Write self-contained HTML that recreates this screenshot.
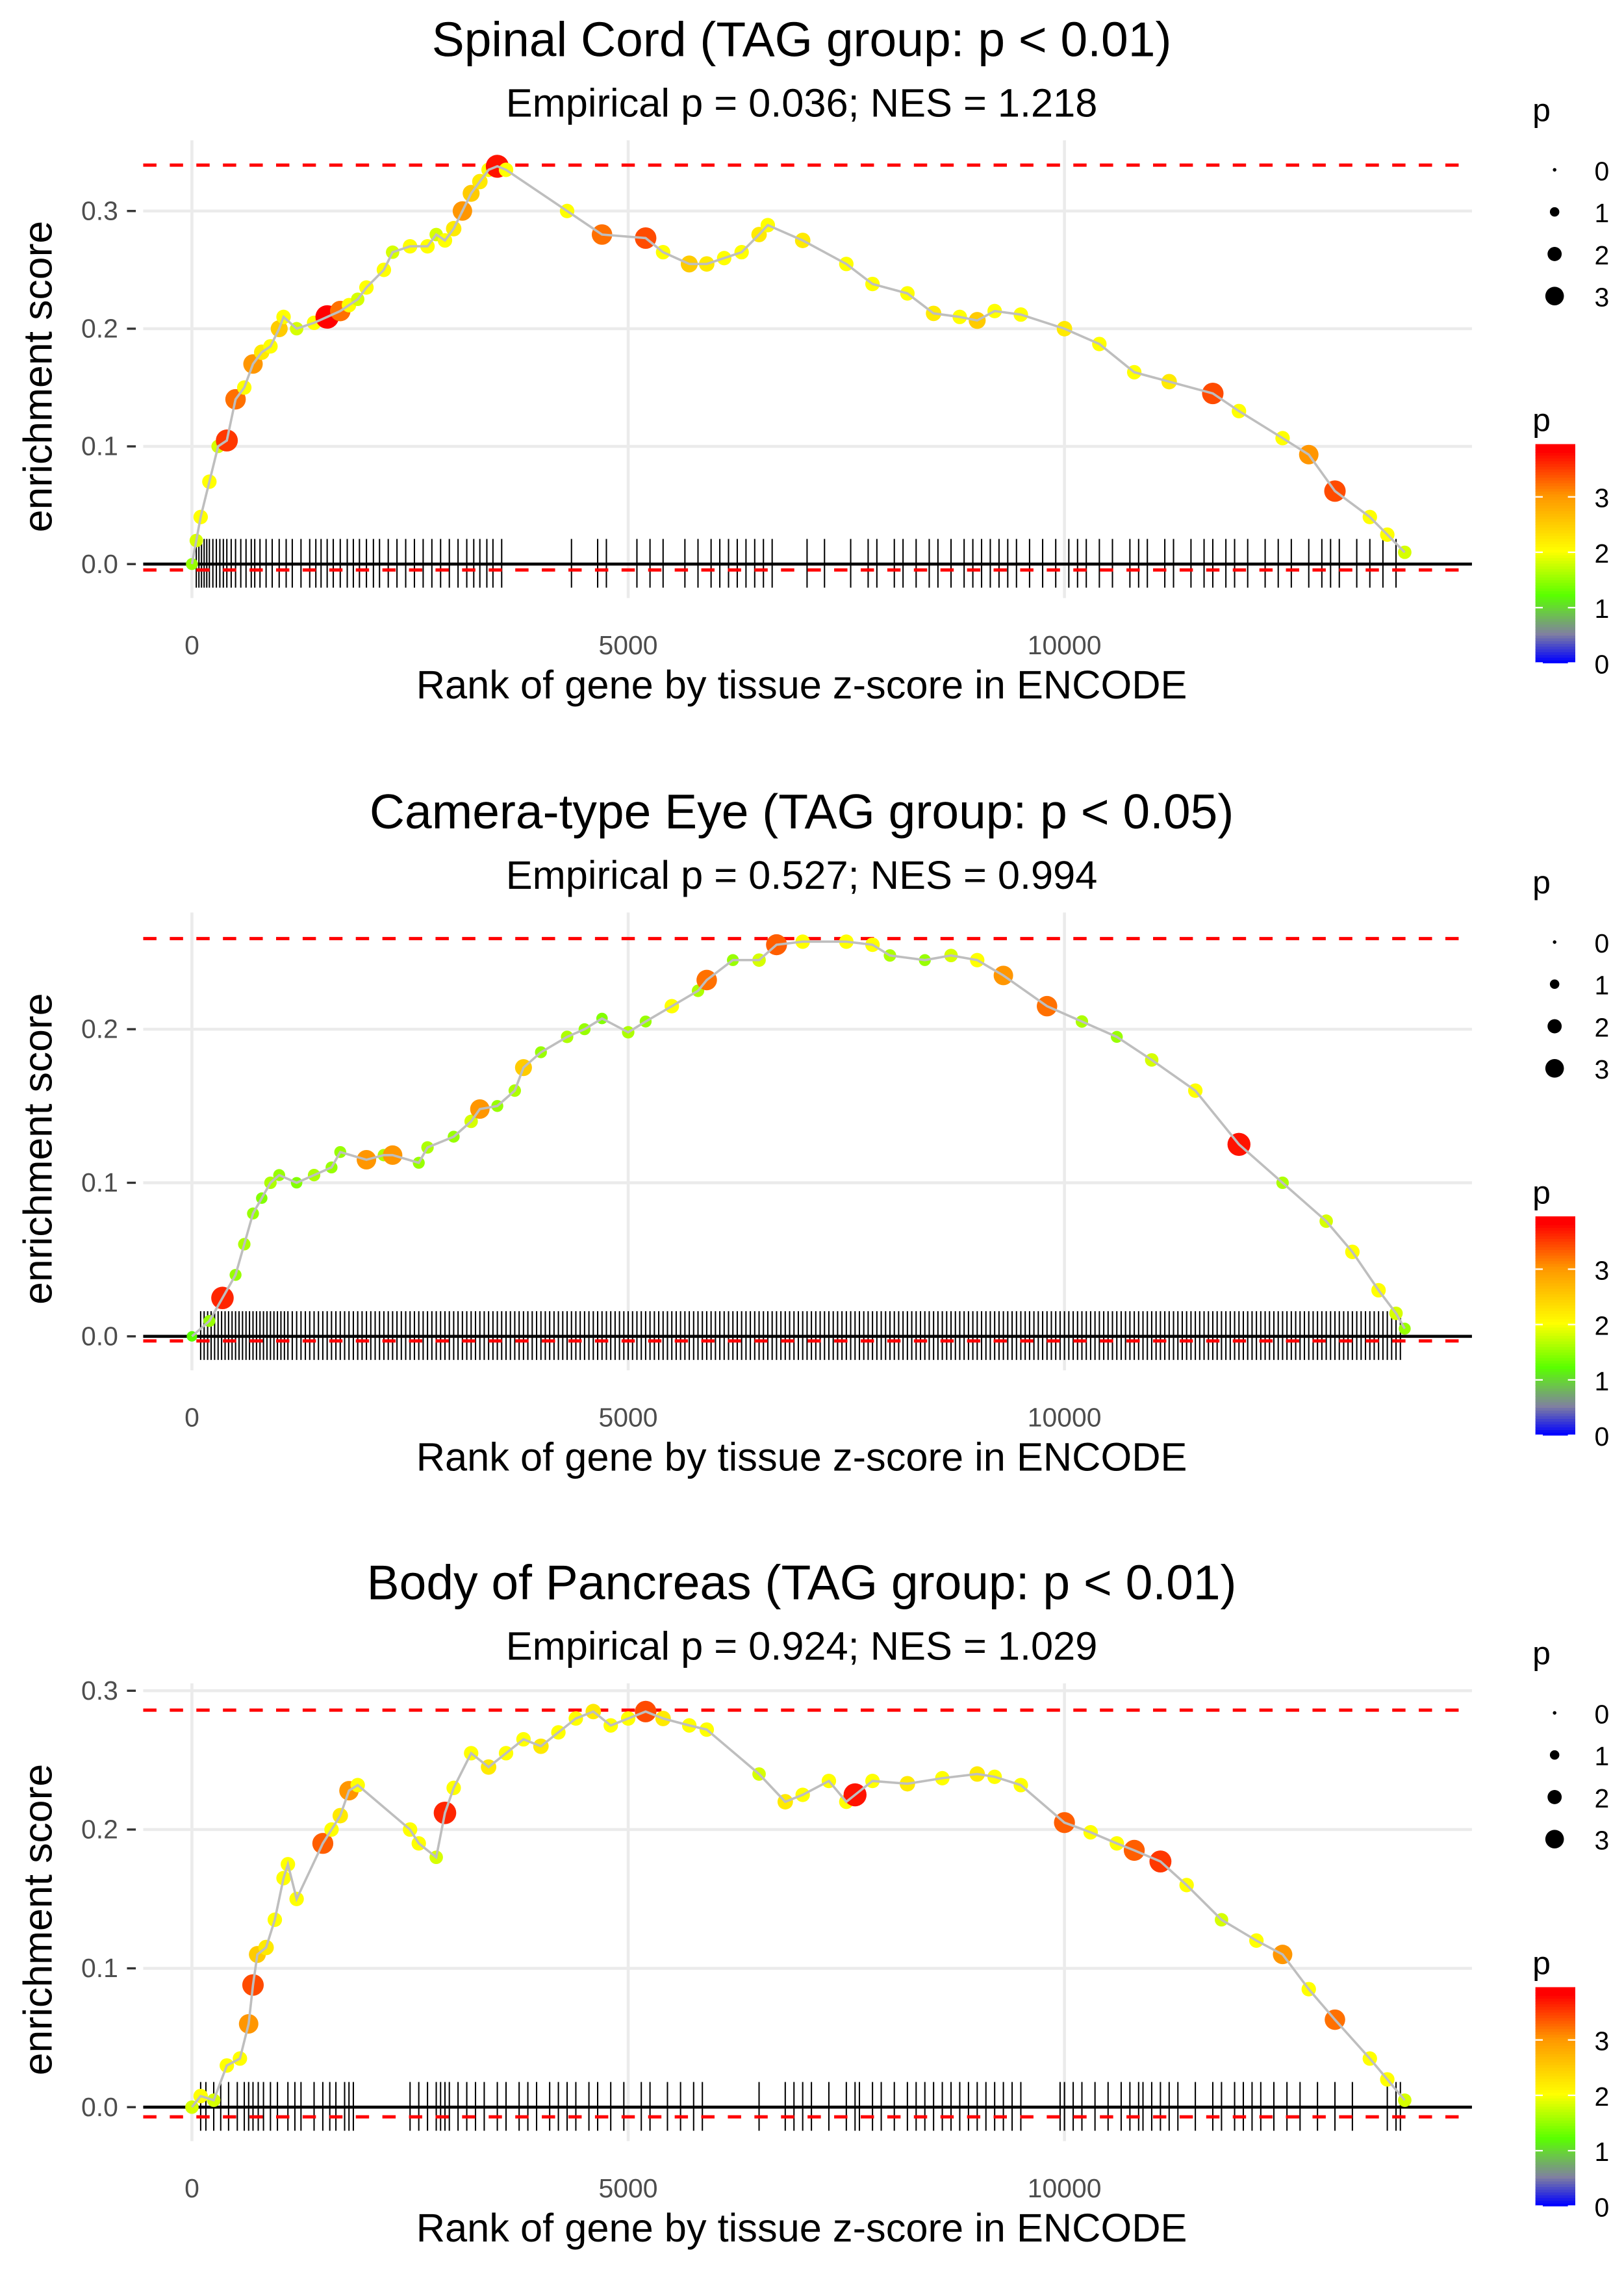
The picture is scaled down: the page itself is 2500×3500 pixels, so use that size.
<!DOCTYPE html>
<html><head><meta charset="utf-8"><style>
html,body{margin:0;padding:0;background:#fff}
svg{display:block}
text{font-family:"Liberation Sans",sans-serif}
</style></head><body>
<svg id="chart" width="2500" height="3500" viewBox="0 0 1100 1540" preserveAspectRatio="none" xmlns="http://www.w3.org/2000/svg"></svg>
<script>
// ---------- data ----------
const titles = ["Spinal Cord (TAG group: p < 0.01)","Camera-type Eye (TAG group: p < 0.05)","Body of Pancreas (TAG group: p < 0.01)"];
const subtitles = ["Empirical p = 0.036; NES = 1.218","Empirical p = 0.527; NES = 0.994","Empirical p = 0.924; NES = 1.029"];
const xTicks = [0,5000,10000];
const yTicks1 = [0,0.1,0.2,0.3];
const yTicks2 = [0,0.1,0.2];
const yTicks3 = [0,0.1,0.2,0.3];
const esMax = [0.339,0.259,0.286];
const esMin = [-0.005,-0.003,-0.007];

const rank1 = [0,50,100,200,300,400,500,600,700,800,900,1000,1050,1200,1400,1550,1700,1800,1900,2000,2200,2300,2500,2700,2800,2900,3000,3100,3200,3300,3400,3500,3600,4300,4700,5200,5400,5700,5900,6100,6300,6500,6600,7000,7500,7800,8200,8500,8800,9000,9200,9500,10000,10400,10800,11200,11700,12000,12500,12800,13100,13500,13700,13900];
const es1 = [0,0.02,0.04,0.07,0.1,0.105,0.14,0.15,0.17,0.18,0.185,0.2,0.21,0.2,0.205,0.21,0.215,0.22,0.225,0.235,0.25,0.265,0.27,0.27,0.28,0.275,0.285,0.3,0.315,0.325,0.335,0.338,0.335,0.3,0.28,0.277,0.265,0.255,0.255,0.26,0.265,0.28,0.288,0.275,0.255,0.238,0.23,0.213,0.21,0.207,0.215,0.212,0.2,0.187,0.163,0.155,0.145,0.13,0.107,0.093,0.062,0.04,0.025,0.01];
const p1 = [1.5,1.8,2,2,1.8,3.5,3.2,2,3,2.2,2,2.5,2,1.8,2,3.8,3.2,2,1.8,2,2,1.8,2,2,1.8,2,2.2,3,2.5,2.2,2,3.7,2,2,3.2,3.4,2,2.5,2.2,2,2,2.2,2,2.2,2,2,2,2.2,2,2.5,2,2,2.2,2,2,2.2,3.4,2,2,3,3.4,2,2,1.8];
const rug1 = [50,80,110,140,170,200,240,280,320,360,400,450,500,560,620,680,720,780,850,920,1000,1080,1150,1250,1350,1420,1480,1550,1620,1700,1780,1850,1920,2000,2080,2150,2250,2350,2450,2550,2650,2750,2850,2950,3050,3150,3230,3300,3380,3450,3550,4350,4650,4750,5100,5250,5400,5650,5800,5950,6050,6150,6250,6350,6450,6550,6650,7050,7250,7550,7750,7850,8050,8150,8300,8450,8550,8700,8850,8950,9050,9150,9250,9350,9450,9600,9750,9900,10050,10150,10250,10400,10550,10750,10850,10950,11150,11250,11450,11600,11700,11850,11950,12100,12300,12450,12600,12800,12950,13050,13150,13350,13500,13650,13800];

const rank2 = [0,200,350,500,600,700,800,900,1000,1200,1400,1600,1700,2000,2200,2300,2600,2700,3000,3200,3300,3500,3700,3800,4000,4300,4500,4700,5000,5200,5500,5800,5900,6200,6500,6700,7000,7500,7800,8000,8400,8700,9000,9300,9800,10200,10600,11000,11500,12000,12500,13000,13300,13600,13800,13900];
const es2 = [0,0.01,0.025,0.04,0.06,0.08,0.09,0.1,0.105,0.1,0.105,0.11,0.12,0.115,0.118,0.118,0.113,0.123,0.13,0.14,0.148,0.15,0.16,0.175,0.185,0.195,0.2,0.207,0.198,0.205,0.215,0.225,0.232,0.245,0.245,0.255,0.257,0.257,0.255,0.248,0.245,0.248,0.245,0.235,0.215,0.205,0.195,0.18,0.16,0.125,0.1,0.075,0.055,0.03,0.015,0.005];
const p2 = [1.2,1.5,3.6,1.5,1.6,1.5,1.4,1.6,1.5,1.4,1.6,1.5,1.5,3,1.6,3,1.5,1.6,1.5,1.8,3,1.5,1.6,2.5,1.5,1.6,1.5,1.4,1.6,1.5,2,1.6,3.2,1.5,1.8,3.3,2,2,2,1.6,1.5,1.8,2,3,3.2,1.6,1.5,1.8,2,3.7,1.6,1.8,2,2,1.8,1.5];
const rug2 = [100,140,180,220,260,300,340,380,420,460,500,540,580,620,660,700,740,780,820,860,900,940,980,1020,1060,1100,1150,1200,1250,1300,1350,1400,1450,1500,1550,1600,1650,1700,1750,1800,1850,1900,1950,2000,2050,2100,2150,2200,2250,2300,2350,2400,2450,2500,2550,2600,2650,2700,2750,2800,2850,2900,2950,3000,3050,3100,3150,3200,3250,3300,3350,3400,3450,3500,3550,3600,3650,3700,3750,3800,3850,3900,3950,4000,4050,4100,4150,4200,4250,4300,4350,4400,4450,4500,4550,4600,4650,4700,4750,4800,4850,4900,4950,5000,5050,5100,5150,5200,5250,5300,5350,5400,5450,5500,5550,5600,5650,5700,5750,5800,5850,5900,5950,6000,6050,6100,6150,6200,6250,6300,6350,6400,6450,6500,6550,6600,6650,6700,6750,6800,6850,6900,6950,7000,7050,7100,7150,7200,7250,7300,7350,7400,7450,7500,7550,7600,7650,7700,7750,7800,7850,7900,7950,8000,8050,8100,8150,8200,8250,8300,8350,8400,8450,8500,8550,8600,8650,8700,8750,8800,8850,8900,8950,9000,9050,9100,9150,9200,9250,9300,9350,9400,9450,9500,9550,9600,9650,9700,9750,9800,9850,9900,9950,10000,10050,10100,10150,10200,10250,10300,10350,10400,10450,10500,10550,10600,10650,10700,10750,10800,10850,10900,10950,11000,11050,11100,11150,11200,11250,11300,11350,11400,11450,11500,11550,11600,11650,11700,11750,11800,11850,11900,11950,12000,12050,12100,12150,12200,12250,12300,12350,12400,12450,12500,12550,12600,12650,12700,12750,12800,12850,12900,12950,13000,13050,13100,13150,13200,13250,13300,13350,13400,13450,13500,13550,13600,13650,13700,13750,13800,13850];

const rank3 = [0,100,250,400,550,650,700,750,850,950,1050,1100,1200,1500,1600,1700,1800,1900,2500,2600,2800,2900,3000,3200,3400,3600,3800,4000,4200,4400,4600,4800,5000,5200,5400,5700,5900,6500,6800,7000,7300,7500,7600,7800,8200,8600,9000,9200,9500,10000,10300,10600,10800,11100,11400,11800,12200,12500,12800,13100,13500,13700,13900];
const es3 = [0,0.008,0.005,0.03,0.035,0.06,0.088,0.11,0.115,0.135,0.165,0.175,0.15,0.19,0.2,0.21,0.228,0.232,0.2,0.19,0.18,0.212,0.23,0.255,0.245,0.255,0.265,0.26,0.27,0.28,0.285,0.275,0.28,0.285,0.28,0.275,0.272,0.24,0.22,0.225,0.235,0.22,0.225,0.235,0.233,0.237,0.24,0.238,0.232,0.205,0.198,0.19,0.185,0.177,0.16,0.135,0.12,0.11,0.085,0.063,0.035,0.02,0.005];
const p3 = [1.8,2,1.8,2,2,3,3.4,2.5,2.2,2,2,2,2,3.3,2,2.2,3,2,2,2,1.8,3.6,2,2,2.2,2,2,2.2,2,2,2.2,2,2,3.4,2.2,2,2,1.8,2.2,2,2,2,3.7,2,2.2,2,2.2,2,2,3.3,2,2,3.3,3.5,2,1.8,2,3,2,3.2,2,2,1.8];
const rug3 = [100,160,250,330,420,520,600,650,700,760,820,900,980,1100,1180,1250,1400,1500,1580,1650,1750,1800,1850,2500,2600,2700,2800,2850,2900,2950,3050,3150,3250,3350,3500,3600,3750,3850,3950,4100,4200,4300,4400,4550,4650,4800,4950,5150,5250,5450,5600,5750,5850,6500,6800,6900,7000,7100,7300,7500,7600,7650,7800,7900,8050,8200,8300,8400,8500,8600,8700,8800,8900,9000,9100,9200,9300,9400,9500,9950,10000,10100,10200,10350,10500,10650,10750,10850,10900,11000,11100,11200,11300,11500,11700,11800,11950,12050,12150,12250,12400,12550,12700,12900,13100,13300,13700,13800,13850];

// ---------- layout ----------
const NS = "http://www.w3.org/2000/svg";
const svg = document.getElementById('chart');
function mk(tag, attrs, parent){const e=document.createElementNS(NS,tag);for(const k in attrs)e.setAttribute(k,attrs[k]);(parent||svg).appendChild(e);return e;}
function pColor(p){
  const stops=[[0,[0,0,255]],[0.5,[128,128,160]],[1.2,[90,255,0]],[2,[255,255,0]],[3,[255,150,0]],[3.8,[255,0,0]]];
  for(let i=1;i<stops.length;i++){if(p<=stops[i][0]){const a=stops[i-1],b=stops[i];const t=(p-a[0])/(b[0]-a[0]);const c=a[1].map((v,j)=>Math.round(v+(b[1][j]-v)*t));return `rgb(${c})`;}}
  return 'rgb(255,0,0)';
}
function pRadius(p){return 1.5+p*1.7;}

const panels=[
 {off:0, y0:382, k:797, rank:rank1, es:es1, p:p1, rug:rug1, yt:yTicks1},
 {off:523, y0:905, k:1040, rank:rank2, es:es2, p:p2, rug:rug2, yt:yTicks2},
 {off:1045, y0:1427, k:940, rank:rank3, es:es3, p:p3, rug:rug3, yt:yTicks3}
];
const X0=97, X1=997;
const xs = r => 130 + r*295.5/5000;

panels.forEach((P,i)=>{
  const g=mk('g',{});
  
  
  const ys=v=>P.y0 - v*P.k;
  const top=P.off+95, bot=P.off+405;
  const t=mk('text',{x:543,y:P.off+38,'text-anchor':'middle','font-size':33,fill:'#000'},g);t.textContent=titles[i];
  
  const s=mk('text',{x:543,y:P.off+79,'text-anchor':'middle','font-size':27,fill:'#000'},g);s.textContent=subtitles[i];
  
  xTicks.forEach(v=>{mk('line',{x1:xs(v),x2:xs(v),y1:top,y2:bot,stroke:'#ebebeb','stroke-width':2},g);
    const tl=mk('text',{x:xs(v),y:P.off+443,'text-anchor':'middle','font-size':18,fill:'#4d4d4d'},g);tl.textContent=v;
    });
  P.yt.forEach(v=>{mk('line',{x1:X0,x2:X1,y1:ys(v),y2:ys(v),stroke:'#ebebeb','stroke-width':2},g);
    mk('line',{x1:86,x2:92,y1:ys(v),y2:ys(v),stroke:'#333','stroke-width':1.5},g);
    const tl=mk('text',{x:80,y:ys(v)+6,'text-anchor':'end','font-size':18,fill:'#4d4d4d'},g);tl.textContent=v.toFixed(1);
    });
  P.rug.forEach(r=>{const l=mk('line',{x1:xs(r),x2:xs(r),y1:P.y0-17,y2:P.y0+16,stroke:'#000','stroke-width':0.9},g);
    });
  mk('line',{x1:X0,x2:X1,y1:P.y0,y2:P.y0,stroke:'#000','stroke-width':2},g);
  [esMax[i],esMin[i]].forEach(v=>{const d=mk('line',{x1:X0,x2:X1,y1:ys(v),y2:ys(v),stroke:'#ff0000','stroke-width':2.2,'stroke-dasharray':'9 9'},g);
    });
  P.rank.forEach((r,j)=>{const c=mk('circle',{cx:xs(r),cy:ys(P.es[j]),r:pRadius(P.p[j]),fill:pColor(P.p[j])},g);
    });
  const path=mk('polyline',{points:P.rank.map((r,j)=>xs(r)+','+ys(P.es[j])).join(' '),fill:'none',stroke:'#bebebe','stroke-width':1.6},g);
  
  const xt=mk('text',{x:543,y:P.off+473,'text-anchor':'middle','font-size':27,fill:'#000'},g);xt.textContent='Rank of gene by tissue z-score in ENCODE';
  
  const cy=P.off+255;
  const yt=mk('text',{x:35,y:cy,'text-anchor':'middle','font-size':27.5,fill:'#000',transform:`rotate(-90 35 ${cy})`},g);yt.textContent='enrichment score';
  
  const lg=mk('g',{},g);
  const lt=mk('text',{x:1038,y:P.off+82,'font-size':22,fill:'#000'},lg);lt.textContent='p';
  [0,1,2,3].forEach((v,k)=>{const yy=P.off+115+k*28.5;
    mk('circle',{cx:1053,cy:yy,r:[1.2,3.2,4.8,6.3][k],fill:'#000'},lg);
    const tx=mk('text',{x:1080,y:yy+7,'font-size':18,fill:'#000'},lg);tx.textContent=v;});
  const cg=mk('g',{},g);
  const ct=mk('text',{x:1038,y:P.off+292,'font-size':22,fill:'#000'},cg);ct.textContent='p';
  for(let q=0;q<=3.9;q+=0.05){const yy=P.off+449-q*37.5;mk('rect',{x:1040,y:yy-2,width:27,height:2.2,fill:pColor(q)},cg);}
  [0,1,2,3].forEach(v=>{const yy=P.off+449-v*37.5;
    mk('line',{x1:1040,x2:1045,y1:yy,y2:yy,stroke:'#fff','stroke-width':1},cg);
    mk('line',{x1:1062,x2:1067,y1:yy,y2:yy,stroke:'#fff','stroke-width':1},cg);
    const tx=mk('text',{x:1080,y:yy+7,'font-size':18,fill:'#000'},cg);tx.textContent=v;});
});
</script>
</body></html>
